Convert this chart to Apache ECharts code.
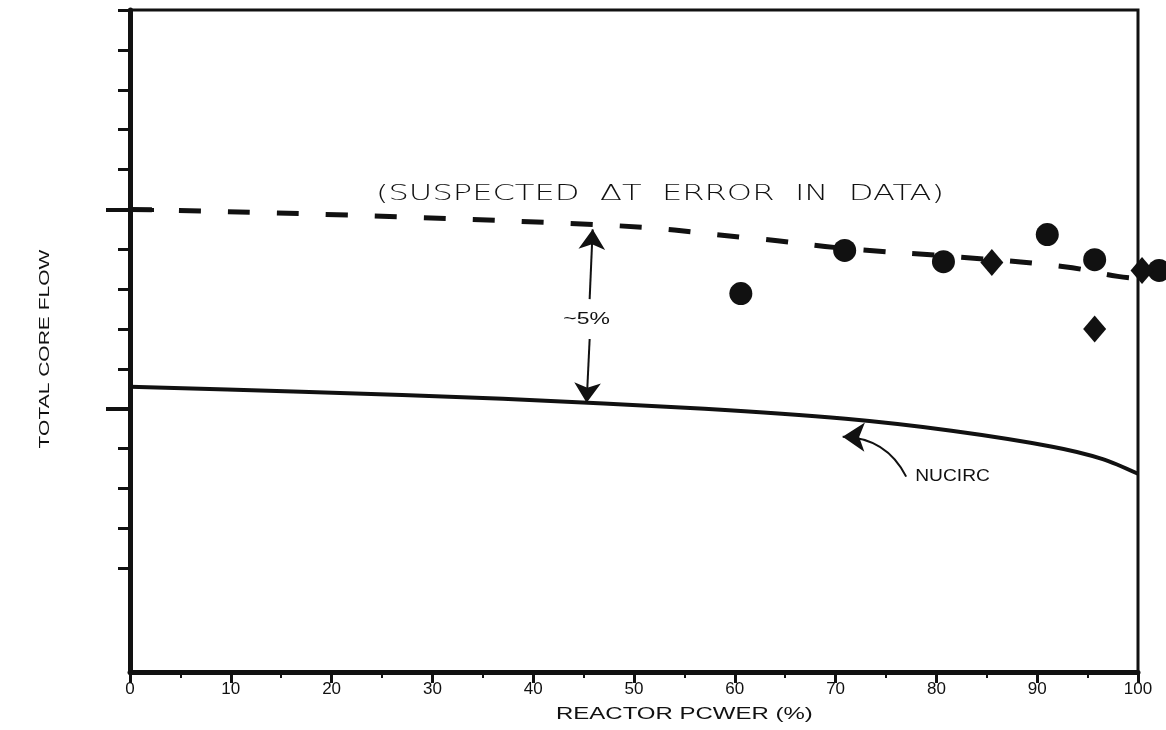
<!DOCTYPE html>
<html>
<head>
<meta charset="utf-8">
<script src="https://cdn.jsdelivr.net/npm/echarts@6/dist/echarts.min.js"></script>
<style>
  html, body { margin: 0; background: #fff; }
  #chart { width: 1166px; height: 730px; }
</style>
</head>
<body>
<div id="chart"></div>
<script>
// reactor power (%) on x, total core flow (arbitrary units, no labels) on y
const nucircPower = [0, 17, 37, 57, 71, 81.5, 91.5, 96.5, 100];
const nucircFlow = [5.55, 5.43, 5.25, 5.0, 4.75, 4.45, 4.05, 3.74, 3.37];

const suspectPower = [0, 46, 62, 71, 81.5, 92.5, 98, 100];
const suspectFlow = [10, 9.62, 9.27, 9.02, 8.82, 8.57, 8.32, 8.27];

const circlePower = [60.6, 70.9, 80.7, 91.0, 95.7, 102.1];
const circleFlow = [7.89, 8.97, 8.69, 9.37, 8.74, 8.47];

const diamondPower = [85.5, 95.7, 100.4];
const diamondFlow = [8.67, 7.0, 8.47];

const flowMin = -1.6, flowMax = 15;
const minorFlowTicks = [1, 2, 3, 4, 6, 7, 8, 9, 11, 12, 13, 14, 15];
const majorFlowTicks = [5, 10];

// annotation anchors (data units)
const gapArrowUp = [[45.6, 7.75], [45.9, 9.5]];
const gapArrowDown = [[45.6, 6.75], [45.3, 5.15]];
const gapLabel = [45.3, 7.25];
const nucircArrow = [[77.0, 3.3], [70.7, 4.3]];
const nucircLabel = [77.9, 3.3];
const suspectLabel = [24.4, 10.38];
const xNameAt = [55, flowMin];

const pairs = (xs, ys) => xs.map((x, i) => [x, ys[i]]);

const chart = echarts.init(document.getElementById('chart'));
const ink = '#111';

const hiddenY = (tick) => ({
  type: 'value', min: flowMin, max: flowMax, position: 'left',
  axisLine: { show: false },
  axisTick: tick,
  axisLabel: { show: false },
  splitLine: { show: false }
});

chart.setOption({
  animation: false,
  backgroundColor: '#fff',
  grid: { left: 130, right: 28, top: 10, bottom: 58, show: true, borderColor: ink, borderWidth: 3 },
  xAxis: {
    type: 'value', min: 0, max: 100, interval: 10,
    axisLine: { onZero: false, lineStyle: { color: ink, width: 5 } },
    axisTick: { length: 11, lineStyle: { color: ink, width: 3 } },
    minorTick: { show: true, splitNumber: 2, length: 6, lineStyle: { color: ink, width: 2 } },
    axisLabel: { color: ink, fontSize: 17, fontFamily: 'Liberation Sans', margin: 9 },
    splitLine: { show: false }
  },
  yAxis: [
    {
      type: 'value', min: flowMin, max: flowMax, position: 'left',
      axisLine: { show: true, lineStyle: { color: ink, width: 5 } },
      axisTick: { show: true, customValues: minorFlowTicks, length: 12, lineStyle: { color: ink, width: 3 } },
      axisLabel: { show: false },
      splitLine: { show: false }
    },
    hiddenY({ show: true, customValues: majorFlowTicks, length: 24, lineStyle: { color: ink, width: 4 } }),
    hiddenY({ show: true, inside: true, customValues: [10], length: 24, lineStyle: { color: ink, width: 4 } })
  ],
  series: [
    {
      name: 'NUCIRC', type: 'line', data: pairs(nucircPower, nucircFlow),
      smooth: 0.3, symbol: 'none', lineStyle: { color: ink, width: 4 }
    },
    {
      name: 'suspected', type: 'line', data: pairs(suspectPower, suspectFlow),
      smooth: true, symbol: 'none', lineStyle: { color: ink, width: 5, type: [22, 27] }
    },
    {
      name: 'circles', type: 'scatter', clip: false, data: pairs(circlePower, circleFlow),
      symbol: 'circle', symbolSize: 23, itemStyle: { color: ink, opacity: 1 }
    },
    {
      name: 'diamonds', type: 'scatter', clip: false, data: pairs(diamondPower, diamondFlow),
      symbol: 'diamond', symbolSize: [23, 27], itemStyle: { color: ink, opacity: 1 }
    },
    {
      type: 'lines', coordinateSystem: 'cartesian2d', silent: true,
      symbol: ['none', 'arrow'], symbolSize: [7, 20],
      lineStyle: { color: ink, width: 2, opacity: 1 },
      data: [{ coords: gapArrowUp }, { coords: gapArrowDown }]
    },
    {
      type: 'lines', coordinateSystem: 'cartesian2d', silent: true,
      symbol: ['none', 'arrow'], symbolSize: [8, 22],
      lineStyle: { color: ink, width: 2, opacity: 1, curveness: -0.3 },
      data: [{ coords: nucircArrow }]
    }
  ]
});

const px = (pt) => chart.convertToPixel({ xAxisIndex: 0, yAxisIndex: 0 }, pt);
const p1 = px(gapLabel), p2 = px(nucircLabel), p3 = px(suspectLabel), p4 = px(xNameAt);
const mid = px([0, 7]);

const label = (pos, text, font, align, sx, extra) => Object.assign({
  type: 'text', x: pos[0], y: pos[1], scaleX: sx,
  style: { text: text, fill: ink, font: font, align: align, verticalAlign: 'middle' }
}, extra || {});

chart.setOption({
  graphic: [
    label(p1, '~5%', '17px "Liberation Sans"', 'center', 1.35),
    label(p2, 'NUCIRC', '16px "Liberation Sans"', 'left', 1.2),
    label(p3, '(SUSPECTED  \u0394T  ERROR  IN  DATA)', '300 22px "DejaVu Sans"', 'left', 1.46),
    label([p4[0], p4[1] + 43], 'REACTOR PCWER (%)', '16px "Liberation Sans"', 'center', 1.5),
    label([mid[0] - 85, mid[1] + 20], 'TOTAL CORE FLOW', '15px "Liberation Sans"', 'center', 1.4, { rotation: Math.PI / 2 })
  ]
});
</script>
</body>
</html>
